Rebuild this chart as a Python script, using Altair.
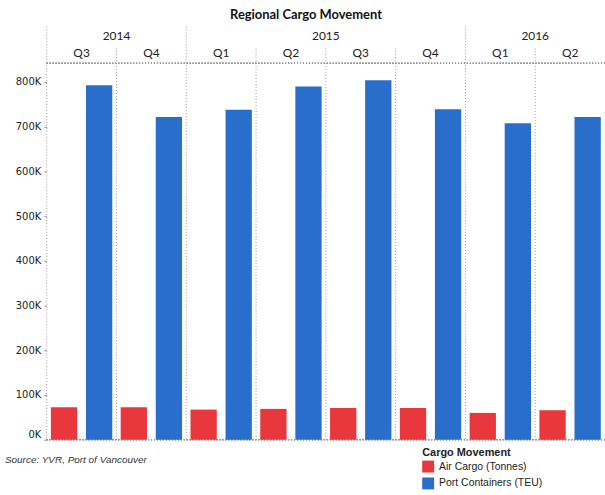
import altair as alt
import pandas as pd

# Quarterly cargo volumes
periods = ["2014 Q3", "2014 Q4", "2015 Q1", "2015 Q2", "2015 Q3", "2015 Q4", "2016 Q1", "2016 Q2"]
quarters = ["Q3", "Q4", "Q1", "Q2", "Q3", "Q4", "Q1", "Q2"]
years = ["2014", "2014", "2015", "2015", "2015", "2015", "2016", "2016"]
air_cargo = [72600, 72600, 67400, 69000, 71000, 71000, 60000, 66000]
port_containers = [793000, 722000, 738000, 790000, 804000, 739000, 708000, 722000]
series = ["Air Cargo (Tonnes)", "Port Containers (TEU)"]
colors = ["#E8383D", "#2A6ECB"]
y_ticks = [0, 100000, 200000, 300000, 400000, 500000, 600000, 700000, 800000]

W, H = 562, 379

bars = pd.DataFrame(
    [{"period": p, "series": series[0], "value": v} for p, v in zip(periods, air_cargo)]
    + [{"period": p, "series": series[1], "value": v} for p, v in zip(periods, port_containers)]
)
heads = pd.DataFrame({"period": periods, "quarter": quarters, "year": years})

# Year labels sit on the band edge in the middle of each year's quarters
year_rows = []
for y in dict.fromkeys(years):
    idx = [i for i, v in enumerate(years) if v == y]
    mid = idx[len(idx) // 2 - 1]
    year_rows.append({"period": periods[mid], "year": y})
year_df = pd.DataFrame(year_rows)

first_q = [i == 0 or years[i] != years[i - 1] for i in range(len(periods))]
year_lines = heads[first_q]
quarter_lines = heads[[not f for f in first_q]]

xscale = alt.Scale(domain=periods, paddingInner=0, paddingOuter=0)
grey = "#9a9a9a"

bar_layer = alt.Chart(bars).mark_bar().encode(
    x=alt.X("period:N", scale=xscale, axis=None, sort=periods),
    xOffset=alt.XOffset("series:N", scale=alt.Scale(domain=series, paddingInner=0.25, paddingOuter=0.12)),
    y=alt.Y(
        "value:Q",
        scale=alt.Scale(domain=[0, 842000], nice=False),
        axis=alt.Axis(
            title=None, values=y_ticks, labelExpr="datum.value / 1000 + 'K'",
            grid=False, domain=False, tickSize=3, tickColor=grey, labelPadding=3,
            labelFont="DejaVu Sans", labelFontSize=10, labelColor="#222222", labelFlush=True,
        ),
    ),
    color=alt.Color(
        "series:N",
        scale=alt.Scale(domain=series, range=colors),
        legend=alt.Legend(
            orient="none", legendX=378, legendY=386, title="Cargo Movement",
            titleFont="Liberation Sans", titleFontSize=11, titleFontWeight="bold", titleColor="#222222",
            titlePadding=3, labelFont="Liberation Sans", labelFontSize=10.5, labelColor="#222222",
            symbolType="square", symbolSize=144, symbolStrokeWidth=0, rowPadding=5, labelOffset=5,
        ),
    ),
)

# Dotted separators between years and quarters, plus header and baseline rules
year_sep = alt.Chart(year_lines).mark_rule(color=grey, strokeDash=[1, 2]).encode(
    x=alt.X("period:N", scale=xscale, bandPosition=0, axis=None),
    y=alt.value(-37), y2=alt.value(H),
)
quarter_sep = alt.Chart(quarter_lines).mark_rule(color=grey, strokeDash=[1, 2]).encode(
    x=alt.X("period:N", scale=xscale, bandPosition=0, axis=None),
    y=alt.value(-15), y2=alt.value(H),
)
header_line = alt.Chart(heads).mark_rule(color=grey, strokeDash=[1, 2]).encode(
    x=alt.value(0), x2=alt.value(W), y=alt.value(0)
)
base_line = alt.Chart(heads).mark_rule(color=grey, strokeDash=[1, 2]).encode(
    x=alt.value(0), x2=alt.value(W), y=alt.value(H)
)

quarter_text = alt.Chart(heads).mark_text(
    font="Lato", fontSize=12, color="#222222", baseline="middle"
).encode(
    x=alt.X("period:N", scale=xscale, axis=None),
    y=alt.value(-10),
    text="quarter:N",
)
year_text = alt.Chart(year_df).mark_text(
    font="Lato", fontSize=12, color="#222222", baseline="middle"
).encode(
    x=alt.X("period:N", scale=xscale, bandPosition=1, axis=None),
    y=alt.value(-27),
    text="year:N",
)
title_text = alt.Chart(year_df.head(1)).mark_text(
    font="Lato", fontSize=13, fontWeight="bold", color="#111111", baseline="middle"
).encode(
    x=alt.value(261), y=alt.value(-49), text=alt.value("Regional Cargo Movement")
)
source_text = alt.Chart(year_df.head(1)).mark_text(
    font="Liberation Sans", fontSize=10, fontStyle="italic", color="#333333",
    align="left", baseline="middle"
).encode(
    x=alt.value(-42), y=alt.value(399), text=alt.value("Source: YVR, Port of Vancouver")
)

chart = alt.layer(
    year_sep, quarter_sep, header_line, base_line, bar_layer,
    quarter_text, year_text, title_text, source_text,
).properties(
    width=W, height=H,
    padding={"left": 47, "top": 62, "right": 0, "bottom": 54},
    autosize=alt.AutoSizeParams(type="none"),
    background="white",
).configure_view(strokeWidth=0, stroke="transparent")

chart.save("out.html", embed_options={"renderer": "svg", "actions": False})
